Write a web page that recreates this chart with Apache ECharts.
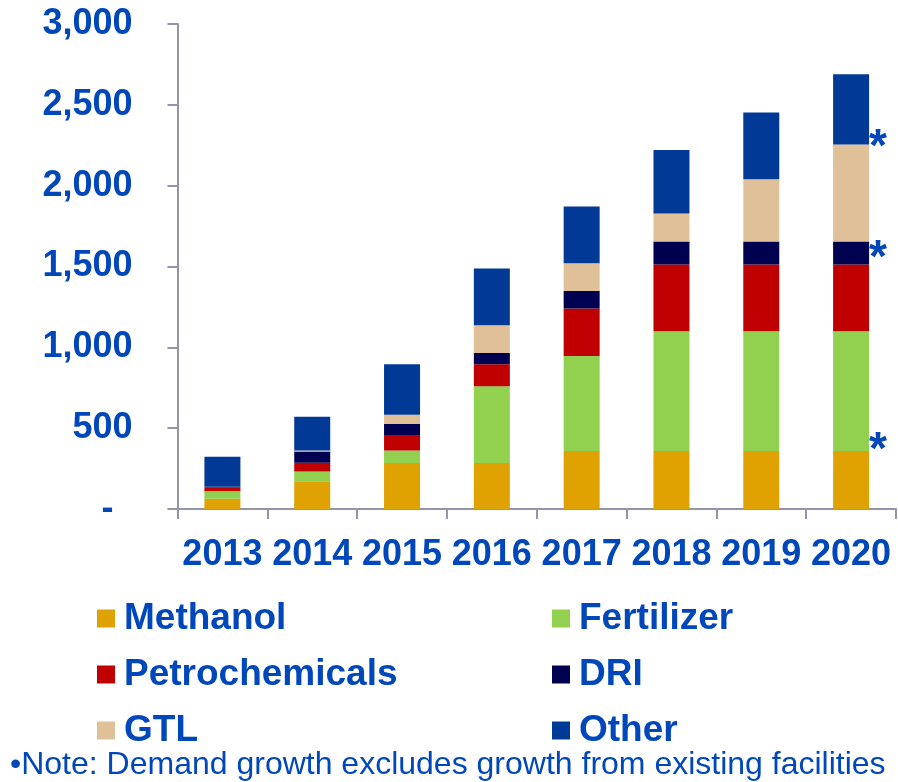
<!DOCTYPE html>
<html>
<head>
<meta charset="utf-8">
<script src="https://cdn.jsdelivr.net/npm/echarts@6/dist/echarts.min.js"></script>
<style>
html,body{margin:0;padding:0;background:#fff;}
#c{width:898px;height:782px;}
</style>
</head>
<body>
<div id="c"></div>
<script>
var years = ['2013', '2014', '2015', '2016', '2017', '2018', '2019', '2020'];
var methanol = [63, 172, 284, 284, 358, 358, 358, 358];
var fertilizer = [47, 60, 78, 476, 588, 741, 741, 741];
var petrochemicals = [25, 54, 95, 135, 294, 413, 413, 413];
var dri = [3, 70, 71, 70, 109, 142, 142, 142];
var gtl = [0, 6, 55, 171, 171, 174, 386, 601];
var other = [185, 209, 312, 351, 351, 392, 413, 434];
var yTicks = [0, 500, 1000, 1500, 2000, 2500, 3000];
var noteText = '\u2022Note: Demand growth excludes growth from existing facilities';

var FONT = '"Liberation Sans", Arial, sans-serif';
var BLUE = '#0047BB';
var AXIS = '#9494AC';

var colors = {
  Methanol: '#E0A200',
  Fertilizer: '#92D050',
  Petrochemicals: '#C00000',
  DRI: '#000050',
  GTL: '#E0C098',
  Other: '#003A96'
};

function star(offsetY) {
  return {
    show: true,
    position: ['100%', '100%'],
    align: 'left',
    verticalAlign: 'middle',
    offset: [0, offsetY],
    formatter: '*',
    color: BLUE,
    fontFamily: FONT,
    fontWeight: 'bold',
    fontSize: 46
  };
}

function mkSeries(name, arr, starIdx, offY) {
  var data = arr.map(function (v, i) {
    if (i === starIdx) {
      return { value: v, label: star(offY) };
    }
    return v;
  });
  return {
    name: name,
    type: 'bar',
    stack: 'total',
    barWidth: 36,
    itemStyle: { color: colors[name] },
    label: { show: false },
    data: data
  };
}

var chart = echarts.init(document.getElementById('c'), null, { renderer: 'canvas' });
var legendText = { color: BLUE, fontFamily: FONT, fontWeight: 'bold', fontSize: 37, lineHeight: 37, padding: [0, 0, 0, 4] };
chart.setOption({
  animation: false,
  textStyle: { fontFamily: FONT },
  title: {
    text: noteText,
    left: 10,
    top: 749,
    padding: 0,
    textStyle: { color: BLUE, fontFamily: FONT, fontWeight: 'normal', fontSize: 32, lineHeight: 32 }
  },
  legend: [
    {
      orient: 'vertical',
      left: 97,
      top: 600,
      padding: 0,
      itemGap: 19,
      itemWidth: 18,
      itemHeight: 18,
      icon: 'rect',
      selectedMode: false,
      data: ['Methanol', 'Petrochemicals', 'GTL'],
      textStyle: legendText
    },
    {
      orient: 'vertical',
      left: 552,
      top: 600,
      padding: 0,
      itemGap: 19,
      itemWidth: 18,
      itemHeight: 18,
      icon: 'rect',
      selectedMode: false,
      data: ['Fertilizer', 'DRI', 'Other'],
      textStyle: legendText
    }
  ],
  grid: { left: 177.5, right: 2, top: 24, bottom: 273, containLabel: false },
  xAxis: {
    type: 'category',
    data: years,
    axisLine: { show: true, lineStyle: { color: AXIS, width: 2 } },
    axisTick: { show: true, interval: 0, length: 10, lineStyle: { color: AXIS, width: 2 } },
    axisLabel: { interval: 0, hideOverlap: false, color: BLUE, fontFamily: FONT, fontWeight: 'bold', fontSize: 36, margin: 28 },
    splitLine: { show: false }
  },
  yAxis: {
    type: 'value',
    min: yTicks[0],
    max: yTicks[yTicks.length - 1],
    interval: yTicks[1] - yTicks[0],
    axisLine: { show: true, lineStyle: { color: AXIS, width: 2 } },
    axisTick: { show: true, length: 10, lineStyle: { color: AXIS, width: 2 } },
    splitLine: { show: false },
    axisLabel: {
      color: BLUE, fontFamily: FONT, fontWeight: 'bold', fontSize: 36, margin: 45,
      formatter: function (v) {
        if (v === 0) return '{z|-}';
        return v.toLocaleString('en-US');
      },
      rich: {
        z: { color: BLUE, fontFamily: FONT, fontWeight: 'bold', fontSize: 36, padding: [0, 19, 0, 0] }
      }
    }
  },
  series: [
    mkSeries('Methanol', methanol, -1, 0),
    mkSeries('Fertilizer', fertilizer, 7, 0),
    mkSeries('Petrochemicals', petrochemicals, -1, 0),
    mkSeries('DRI', dri, 7, -5),
    mkSeries('GTL', gtl, -1, 0),
    mkSeries('Other', other, 7, 4)
  ]
});
</script>
</body>
</html>
